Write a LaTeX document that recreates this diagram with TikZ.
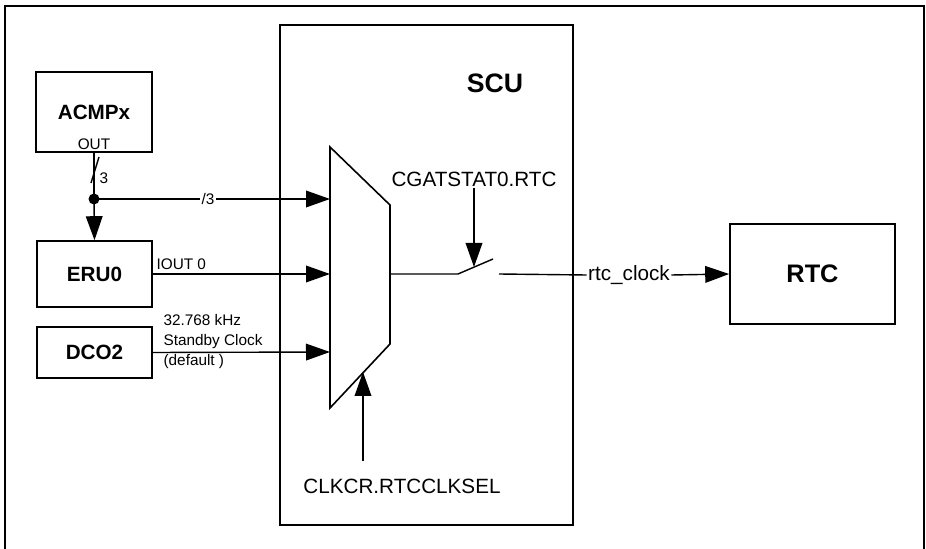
\documentclass[tikz,border=0pt]{standalone}
\usepackage{fontspec}
\setmainfont{Liberation Sans}
\usetikzlibrary{arrows.meta, positioning, calc}

\begin{document}
\begin{tikzpicture}[x=0.75pt, y=-0.75pt, >={Triangle[length=18pt, width=12.5pt]},
            blk/.style={draw, line width=1.2pt, inner sep=0pt, font=\fontsize{15.5}{18}\selectfont\bfseries},
            sig/.style={line width=1.05pt},
            lbl/.style={font=\fontsize{15.5}{18}\selectfont, inner sep=1pt},
            small/.style={font=\fontsize{11.5}{15}\selectfont, inner sep=1pt}]

            \useasboundingbox (0,0) rectangle (926,549);
            \draw[line width=2.2pt] (5,549) -- (5,6) -- (924,6) -- (924,549);

            % blocks
            \node[blk, minimum width=219.75pt, minimum height=375pt] (scu) at (426.5,275) {};
            \node[font=\fontsize{20}{23}\selectfont\bfseries] (scu_t) at (495,83) {SCU};
            \node[blk, minimum width=87pt, minimum height=60pt] (acmp) at (94,112) {ACMPx};
            \node[small] (out) at (94,144) {OUT};
            \node[blk, minimum width=86.25pt, minimum height=49.5pt] (eru) at (94.5,274) {ERU0};
            \node[blk, minimum width=86.25pt, minimum height=38.25pt] (dco) at (94.5,352.5) {DCO2};
            \node[blk, minimum width=123.75pt, minimum height=75pt, font=\fontsize{19}{22}\selectfont\bfseries] (rtc) at (812.5,274) {RTC};

            % multiplexer
            \draw[line width=1.2pt] (330,147) -- (390,205) -- (390,344) -- (330,408) -- cycle;
            \coordinate (mi1) at (330,199);
            \coordinate (mi2) at (330,274);
            \coordinate (mi3) at (330,352);
            \coordinate (mo) at (390,274);

            % switch
            \coordinate (sw1) at (458,274);
            \coordinate (sw2) at (493,259);
            \coordinate (sw3) at (499,274);
            \coordinate (gtip) at (474,267);
            \coordinate (seltip) at (363,372);
            \coordinate (selbot) at (363,461);

            % ACMPx output
            \coordinate (jn) at (94,199);
            \draw[sig] (acmp.south) -- (jn);
            \fill (jn) circle (5.5);
            \draw[sig] (91,183) -- (99,157);
            \node[small] (three) at (104,178) {3};
            \draw[sig, ->] (jn) -- (eru.north);
            \draw[sig, ->] (jn) -- (mi1);
            \node[small, fill=white] (bus) at (208,199) {/3};

            % other inputs
            \draw[sig, ->] (eru.east) -- (mi2);
            \node[small, anchor=west] (iout) at (155,264) {IOUT 0};
            \draw[sig, ->] (dco.east) -- (mi3);
            \node[small, anchor=west, align=left] (stby) at (162,342) {32.768 kHz\\Standby Clock\\(default )};

            % output path
            \draw[sig] (mo) -- (sw1) -- (sw2);
            \node[lbl, fill=white] (clk) at (629,275) {rtc\_clock};
            \draw[sig] (sw3) -- (clk.west);
            \draw[sig, ->] (clk.east) -- (rtc.west);

            % controls
            \node[lbl] (gate) at (474,179) {CGATSTAT0.RTC};
            \draw[sig, ->] (gate.south) -- (gtip);
            \node[lbl] (sel) at (402,486) {CLKCR.RTCCLKSEL};
            \draw[sig, ->] (selbot) -- (seltip);
        \end{tikzpicture}
\end{document}
